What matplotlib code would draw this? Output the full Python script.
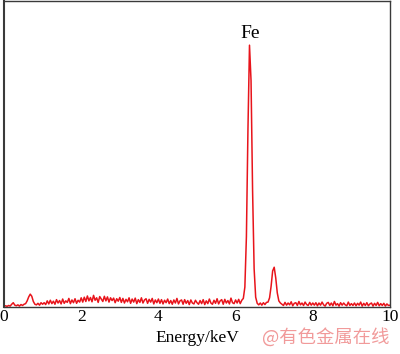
import numpy as np
import matplotlib
matplotlib.use("Agg")
import matplotlib.pyplot as plt

# Energy channels (keV), 0.04 keV step
energy = np.linspace(0, 10, 251)

counts = [
    # 0.00-0.16
    0.2, 0.4, 0.2, 0.5, 0.3,
    # 0.20-0.28
    0.9, 1.4, 0.6,
    # 0.32-0.56
    0.4, 0.7, 0.3, 0.8, 0.5, 0.9, 1.1,
    # 0.60-0.80 (Fe L)
    2.0, 3.3, 4.2, 3.5, 1.8, 0.9,
    # 0.84-1.00
    0.7, 1.2, 0.6, 1.4, 0.9,
    # 1.04-2.00
    1.4, 0.8, 2.0, 1.0, 2.2, 1.1, 1.9, 0.9, 2.4, 1.3, 2.1, 1.0, 2.6, 1.2, 2.0,
    1.5, 2.8, 1.1, 2.3, 1.4, 2.7, 1.2, 2.2, 1.6, 3.0,
    # 2.04-3.00
    1.6, 3.2, 1.8, 3.6, 2.0, 3.1, 1.7, 3.8, 2.2, 3.0, 1.5, 3.4, 2.6, 1.8, 3.5,
    2.0, 3.3, 1.6, 3.0, 2.1, 2.9, 1.4, 2.7, 1.9, 3.1,
    # 3.04-4.00
    1.5, 2.8, 1.3, 2.5, 1.7, 3.0, 1.2, 2.6, 1.6, 2.9, 1.1, 2.4, 1.5, 3.0, 1.3,
    2.3, 2.7, 1.2, 2.5, 1.6, 2.8, 1.0, 2.3, 1.4, 2.6,
    # 4.04-5.00
    1.2, 2.4, 1.0, 2.2, 1.4, 2.6, 1.1, 2.1, 0.9, 2.3, 1.3, 2.8, 1.0, 2.0, 2.3,
    0.9, 2.4, 1.2, 2.1, 0.8, 2.3, 1.3, 1.0, 2.2, 1.4,
    # 5.04-6.00
    0.9, 2.1, 1.1, 2.4, 0.8, 2.0, 1.1, 2.6, 1.3, 0.9, 2.2, 1.2, 2.7, 1.0, 2.0,
    2.4, 0.9, 2.5, 1.3, 2.1, 1.0, 2.9, 1.4, 1.1, 2.3,
    # 6.04-6.16
    1.3, 2.5, 1.1, 2.2,
    # 6.20-6.56 (Fe Ka)
    2.8, 6.5, 23.0, 58.0, 85.6, 74.0, 38.0, 12.5, 3.2, 1.2,
    # 6.60-6.80
    0.7, 1.3, 0.6, 1.4, 0.8, 1.5,
    # 6.84-7.16 (Fe Kb)
    1.6, 3.0, 6.8, 11.8, 13.0, 9.5, 4.6, 2.0, 1.3,
    # 7.20-8.00
    0.9, 0.5, 1.5, 0.6, 1.3, 0.7, 1.7, 0.4, 1.2, 1.4, 0.5, 1.8, 0.7, 1.3, 0.5,
    1.6, 0.8, 0.5, 1.5, 0.6, 1.3,
    # 8.04-9.00
    0.6, 1.4, 0.4, 1.3, 0.6, 1.6, 0.7, 0.3, 1.2, 1.5, 0.5, 1.3, 0.4, 1.8, 0.6,
    1.1, 0.3, 1.4, 0.6, 1.3, 0.7, 0.4, 1.6, 0.5, 1.1,
    # 9.04-10.00
    0.5, 1.3, 0.4, 1.2, 0.6, 1.6, 0.3, 1.2, 0.5, 1.4, 0.4, 1.0, 1.3, 0.3, 1.2,
    0.5, 1.5, 0.4, 1.1, 0.5, 1.2, 0.3, 1.0, 0.5, 0.6,
]

xticks = [0, 2, 4, 6, 8, 10]
peak_label = "Fe"
peak_pos = (6.37, 86.8)
xlabel = "Energy/keV"
watermark = "@有色金属在线"

plt.rcParams['font.family'] = ['Liberation Serif', 'DejaVu Serif']

fig = plt.figure(figsize=(4.0, 3.54), dpi=100)
ax = fig.add_axes([0.01, 0.1328, 0.965, 0.864])
ax.plot(energy, counts, color='#e8141b', lw=1.1)
ax.set_xlim(0, 10)
ax.set_ylim(0, 100)
ax.set_xticks(xticks)
ax.set_xticklabels([str(t) for t in xticks])
ax.set_yticks([])
ax.tick_params(axis='x', length=0, pad=1.5, labelsize=12.5)
for s in ax.spines.values():
    s.set_color('#3a3a3a')
    s.set_linewidth(1.0)
ax.spines['left'].set_linewidth(1.5)

ax.text(peak_pos[0], peak_pos[1], peak_label, ha='center', va='bottom', fontsize=14)
fig.text(0.4925, 0.044, xlabel, ha='center', va='center', fontsize=12.5)
fig.text(0.655, 0.047, watermark, ha='left', va='center', fontsize=13.2,
         color='#f19a9a', family=['Noto Sans CJK SC', 'DejaVu Sans'])

fig.savefig('out.png', dpi=100)
